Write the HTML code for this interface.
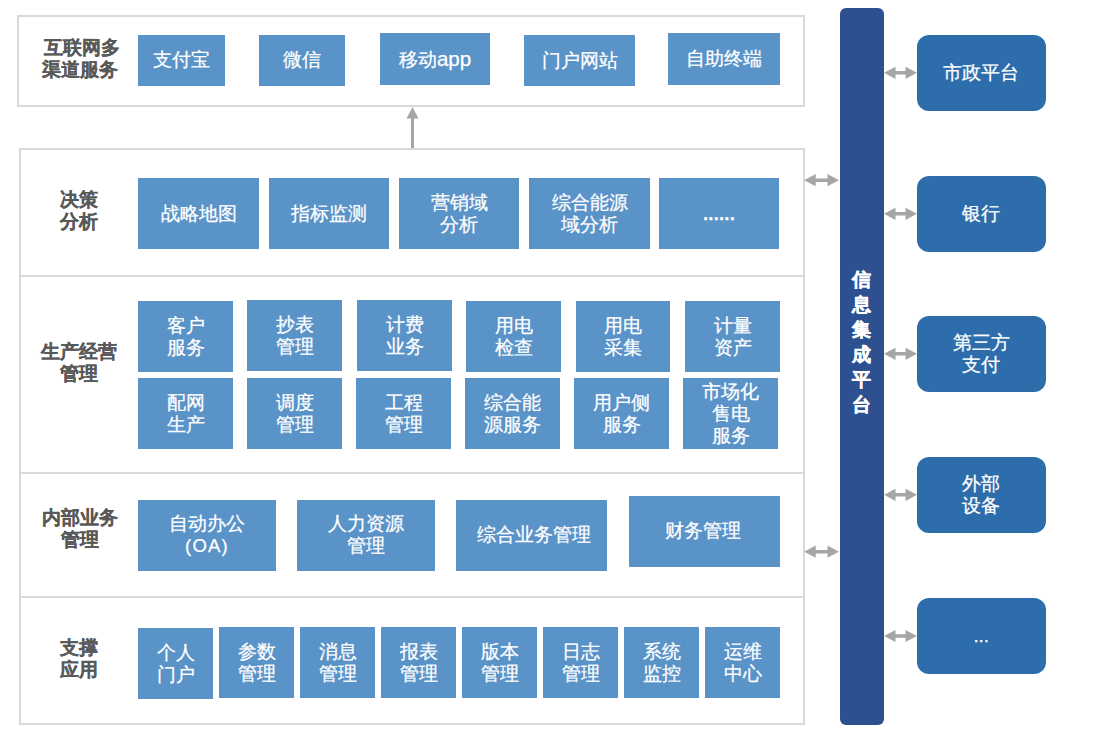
<!DOCTYPE html>
<html><head><meta charset="utf-8"><style>
html,body{margin:0;padding:0;background:#fff;width:1099px;height:746px;overflow:hidden;position:relative}
body{font-family:"Liberation Sans",sans-serif}
div{position:absolute;box-sizing:border-box}
.pn{border:2px solid #d9d9d9}
.hl{height:2px;background:#d9d9d9}
.b,.rb{background:#5a93c8;color:#fff;display:flex;align-items:center;justify-content:center;text-align:center;font-size:18.5px;line-height:22px}
.rb{background:#2e6dab;border-radius:12px}
.b span,.rb span{display:block;-webkit-text-stroke:0.25px #fff}
.lb{color:#595959;font-weight:bold;-webkit-text-stroke:0.2px #595959;font-size:18.5px;line-height:22px;text-align:center}
.bar{background:#2d5090;border-radius:6px}
.bt{color:#fff;font-weight:bold;font-size:19px;line-height:25px;text-align:center;-webkit-text-stroke:0.4px #fff}
.b i{font-style:normal;font-size:20.5px}
.b b{font-weight:normal;letter-spacing:1.2px}
.b u{text-decoration:none;font-weight:bold;letter-spacing:0.2px}
.ov{position:absolute;left:0;top:0}
</style></head><body>
<div class="pn" style="left:17px;top:15px;width:788px;height:92px"></div>
<div class="pn" style="left:19px;top:148px;width:786px;height:577px"></div>
<div class="hl" style="left:19px;top:275px;width:786px"></div>
<div class="hl" style="left:19px;top:472px;width:786px"></div>
<div class="hl" style="left:19px;top:596px;width:786px"></div>
<div class="b" style="left:138px;top:35px;width:87px;height:51px;"><span style="transform:translate(0px,-1px)">支付宝</span></div>
<div class="b" style="left:259px;top:35px;width:86px;height:51px;"><span style="transform:translate(0px,-1px)">微信</span></div>
<div class="b" style="left:380px;top:33px;width:110px;height:52px;"><span>移动<i>app</i></span></div>
<div class="b" style="left:524px;top:35px;width:111px;height:51px;"><span>门户网站</span></div>
<div class="b" style="left:668px;top:33px;width:112px;height:52px;"><span>自助终端</span></div>
<div class="b" style="left:138px;top:178px;width:121px;height:71px;"><span>战略地图</span></div>
<div class="b" style="left:269px;top:178px;width:120px;height:71px;"><span>指标监测</span></div>
<div class="b" style="left:399px;top:178px;width:120px;height:71px;"><span>营销域<br>分析</span></div>
<div class="b" style="left:529px;top:178px;width:121px;height:71px;"><span>综合能源<br>域分析</span></div>
<div class="b" style="left:659px;top:178px;width:120px;height:71px;"><span><u>......</u></span></div>
<div class="b" style="left:138px;top:301px;width:95px;height:71px;"><span>客户<br>服务</span></div>
<div class="b" style="left:247px;top:300px;width:95px;height:71px;"><span>抄表<br>管理</span></div>
<div class="b" style="left:357px;top:300px;width:95px;height:71px;"><span>计费<br>业务</span></div>
<div class="b" style="left:466px;top:301px;width:95px;height:71px;"><span>用电<br>检查</span></div>
<div class="b" style="left:576px;top:301px;width:94px;height:71px;"><span>用电<br>采集</span></div>
<div class="b" style="left:685px;top:301px;width:95px;height:71px;"><span>计量<br>资产</span></div>
<div class="b" style="left:138px;top:378px;width:95px;height:71px;"><span>配网<br>生产</span></div>
<div class="b" style="left:247px;top:378px;width:95px;height:71px;"><span>调度<br>管理</span></div>
<div class="b" style="left:356px;top:378px;width:95px;height:71px;"><span>工程<br>管理</span></div>
<div class="b" style="left:465px;top:378px;width:95px;height:71px;"><span>综合能<br>源服务</span></div>
<div class="b" style="left:574px;top:378px;width:95px;height:71px;"><span>用户侧<br>服务</span></div>
<div class="b" style="left:683px;top:378px;width:95px;height:71px;"><span>市场化<br>售电<br>服务</span></div>
<div class="b" style="left:138px;top:500px;width:138px;height:71px;"><span style="transform:translate(0px,-1.5px)">自动办公<br><b>(OA)</b></span></div>
<div class="b" style="left:297px;top:500px;width:138px;height:71px;"><span style="transform:translate(0px,-1.5px)">人力资源<br>管理</span></div>
<div class="b" style="left:456px;top:500px;width:151px;height:71px;"><span style="transform:translate(2.5px,-1px)">综合业务管理</span></div>
<div class="b" style="left:629px;top:496px;width:151px;height:71px;"><span style="transform:translate(-1.5px,-1px)">财务管理</span></div>
<div class="b" style="left:138px;top:628px;width:75px;height:71px;"><span>个人<br>门户</span></div>
<div class="b" style="left:219px;top:627px;width:75px;height:71px;"><span>参数<br>管理</span></div>
<div class="b" style="left:300px;top:627px;width:75px;height:71px;"><span>消息<br>管理</span></div>
<div class="b" style="left:381px;top:627px;width:75px;height:71px;"><span>报表<br>管理</span></div>
<div class="b" style="left:462px;top:627px;width:75px;height:71px;"><span>版本<br>管理</span></div>
<div class="b" style="left:543px;top:627px;width:75px;height:71px;"><span>日志<br>管理</span></div>
<div class="b" style="left:624px;top:627px;width:75px;height:71px;"><span>系统<br>监控</span></div>
<div class="b" style="left:705px;top:627px;width:75px;height:71px;"><span>运维<br>中心</span></div>
<div class="lb" style="left:20px;top:37px;width:120px"><span style="padding-left:4px">互联网多</span><br>渠道服务</div>
<div class="lb" style="left:19px;top:189px;width:120px">决策<br>分析</div>
<div class="lb" style="left:19px;top:341px;width:120px">生产经营<br>管理</div>
<div class="lb" style="left:19.5px;top:507.3px;width:120px">内部业务<br>管理</div>
<div class="lb" style="left:19px;top:637px;width:120px">支撑<br>应用</div>
<div class="bar" style="left:839.6px;top:8px;width:44.2px;height:717px"></div>
<div class="bt" style="left:839px;top:267px;width:44px">信<br>息<br>集<br>成<br>平<br>台</div>
<div class="rb" style="left:916.6px;top:35px;width:129.19999999999993px;height:76px;"><span>市政平台</span></div>
<div class="rb" style="left:916.6px;top:176px;width:129.19999999999993px;height:76px;"><span>银行</span></div>
<div class="rb" style="left:916.6px;top:316px;width:129.19999999999993px;height:76px;"><span>第三方<br>支付</span></div>
<div class="rb" style="left:916.6px;top:457px;width:129.19999999999993px;height:76px;"><span>外部<br>设备</span></div>
<div class="rb" style="left:916.6px;top:598px;width:129.19999999999993px;height:76px;"><span>...</span></div>
<svg class="ov" width="1099" height="746" viewBox="0 0 1099 746"><path d="M884,72.8 L895.5,66.7 L895.5,71.1 L905.5,71.1 L905.5,66.7 L917,72.8 L905.5,78.89999999999999 L905.5,74.5 L895.5,74.5 L895.5,78.89999999999999 Z" fill="#a6a6a6"/><path d="M884,213.8 L895.5,207.70000000000002 L895.5,212.10000000000002 L905.5,212.10000000000002 L905.5,207.70000000000002 L917,213.8 L905.5,219.9 L905.5,215.5 L895.5,215.5 L895.5,219.9 Z" fill="#a6a6a6"/><path d="M884,353.8 L895.5,347.7 L895.5,352.1 L905.5,352.1 L905.5,347.7 L917,353.8 L905.5,359.90000000000003 L905.5,355.5 L895.5,355.5 L895.5,359.90000000000003 Z" fill="#a6a6a6"/><path d="M884,494.8 L895.5,488.7 L895.5,493.1 L905.5,493.1 L905.5,488.7 L917,494.8 L905.5,500.90000000000003 L905.5,496.5 L895.5,496.5 L895.5,500.90000000000003 Z" fill="#a6a6a6"/><path d="M884,636 L895.5,629.9 L895.5,634.3 L905.5,634.3 L905.5,629.9 L917,636 L905.5,642.1 L905.5,637.7 L895.5,637.7 L895.5,642.1 Z" fill="#a6a6a6"/><path d="M804.2,180.2 L815.7,174.1 L815.7,178.5 L827.5,178.5 L827.5,174.1 L839,180.2 L827.5,186.29999999999998 L827.5,181.89999999999998 L815.7,181.89999999999998 L815.7,186.29999999999998 Z" fill="#a6a6a6"/><path d="M804.2,551.7 L815.7,545.6 L815.7,550.0 L827.5,550.0 L827.5,545.6 L839,551.7 L827.5,557.8000000000001 L827.5,553.4000000000001 L815.7,553.4000000000001 L815.7,557.8000000000001 Z" fill="#a6a6a6"/><path d="M412.5,107 L418.5,118.5 L414,118.5 L414,148 L411,148 L411,118.5 L406.5,118.5 Z" fill="#a6a6a6"/></svg>
</body></html>
